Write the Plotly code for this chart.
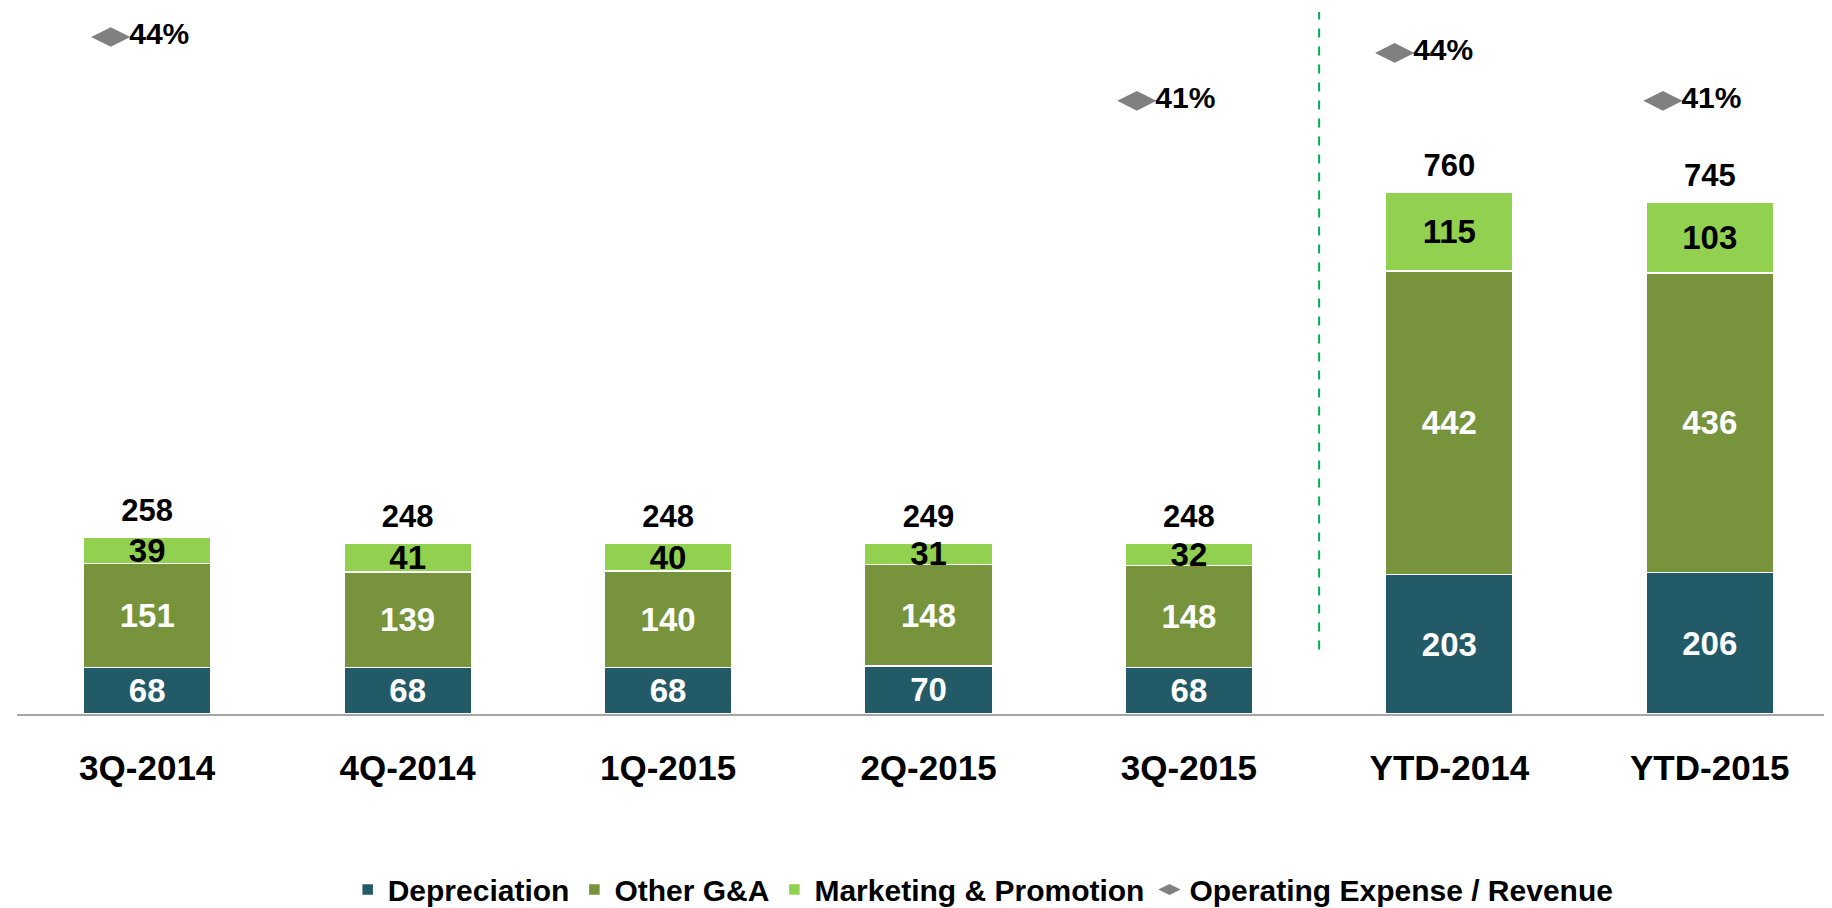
#
# Imports
#
import plotly.graph_objects as go
import pandas as pd

#
# Data
#
expense_df = pd.DataFrame({
    'period': ['3Q-2014', '4Q-2014', '1Q-2015', '2Q-2015', '3Q-2015', 'YTD-2014', 'YTD-2015'],
    'depreciation': [68, 68, 68, 70, 68, 203, 206],
    'other_ga': [151, 139, 140, 148, 148, 442, 436],
    'marketing': [39, 41, 40, 31, 32, 115, 103],
    'total': [258, 248, 248, 249, 248, 760, 745],
    'opex_ratio': [44, None, None, None, 41, 44, 41],  # Operating Expense / Revenue in %
    'ratio_shift': [-0.14, None, None, None, -0.2, -0.21, -0.18],  # marker sits left of the bar
})
expense_df['pos'] = range(len(expense_df))

label_font = 'Liberation Sans, Arial'

#
# Create graph
#
def create_expense_figure(df):
    fig = go.Figure()
    segments = [('depreciation', 'Depreciation', '#235a68', 'white'),
                ('other_ga', 'Other G&A', '#77933c', 'white'),
                ('marketing', 'Marketing & Promotion', '#92d050', 'black')]
    for column, name, color, text_color in segments:
        fig.add_trace(go.Bar(x=df['pos'], y=df[column], name=name, width=0.49,
                             marker=dict(color=color, line=dict(color='white', width=1.5)),
                             text=df[column], textposition='inside', insidetextanchor='middle',
                             constraintext='none', textangle=0,
                             textfont=dict(family=label_font, size=33, color=text_color, weight='bold')))
    # totals above bars
    fig.add_trace(go.Scatter(x=df['pos'], y=df['total'], mode='markers+text', text=df['total'],
                             textposition='top center', showlegend=False,
                             marker=dict(size=12, opacity=0),
                             textfont=dict(family=label_font, size=31, color='black', weight='bold')))
    quarters = df.iloc[:5]
    ytd = df.iloc[5:]
    for part, axis, legend in [(quarters, 'y2', True), (ytd, 'y3', False)]:
        fig.add_trace(go.Scatter(x=part['pos'] + part['ratio_shift'], y=part['opex_ratio'],
                                 yaxis=axis, mode='markers+text', name='Operating Expense / Revenue',
                                 legendgroup='ratio', showlegend=legend,
                                 marker=dict(symbol='diamond-wide', size=28, color='#808080'),
                                 text=[None if pd.isna(v) else '%d%%' % v for v in part['opex_ratio']],
                                 textposition='middle right',
                                 textfont=dict(family=label_font, size=30, color='black', weight='bold')))
    # divider between quarters and year to date
    fig.add_shape(type='line', x0=4.5, x1=4.5, xref='x', y0=0.092, y1=1.0, yref='paper',
                  line=dict(color='#00b050', width=2, dash='dash'))
    fig.update_layout(width=1832, height=908, barmode='stack',
                      paper_bgcolor='white', plot_bgcolor='white', font_color='black',
                      margin=dict(l=9, r=0, t=4, b=195),
                      legend=dict(orientation='h', x=0.53, xanchor='center', y=-0.25, yanchor='middle',
                                  font=dict(family=label_font, size=30, color='black', weight='bold'),
                                  itemwidth=30),
                      yaxis=dict(range=[0, 1022.5], visible=False),
                      yaxis2=dict(range=[12.22, 45.17], overlaying='y', visible=False),
                      yaxis3=dict(range=[2.63, 46.56], overlaying='y', visible=False))
    fig.update_xaxes(range=[-0.5, 6.5], tickvals=list(df['pos']), ticktext=list(df['period']),
                     showline=True, linecolor='#a6a6a6', linewidth=1.5, showgrid=False, zeroline=False,
                     ticks='outside', ticklen=22, tickcolor='rgba(0,0,0,0)',
                     tickfont=dict(family=label_font, size=35, color='black', weight='bold'))
    return fig


fig = create_expense_figure(expense_df)
fig.write_html('out.html')
